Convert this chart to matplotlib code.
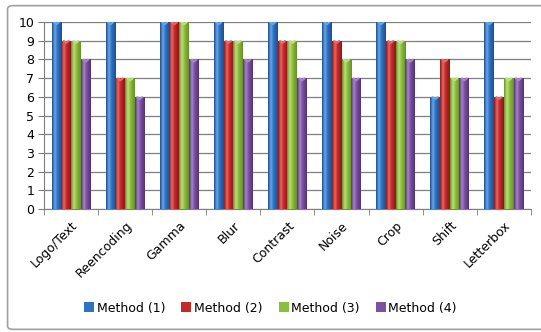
import numpy as np
import matplotlib.pyplot as plt
from matplotlib.colors import LinearSegmentedColormap
from matplotlib.patches import FancyBboxPatch

categories = ['Logo/Text', 'Reencoding', 'Gamma', 'Blur', 'Contrast',
              'Noise', 'Crop', 'Shift', 'Letterbox']
method_names = ['Method (1)', 'Method (2)', 'Method (3)', 'Method (4)']
method1 = [10, 10, 10, 10, 10, 10, 10, 6, 10]
method2 = [9, 7, 10, 9, 9, 9, 9, 8, 6]
method3 = [9, 7, 10, 9, 9, 8, 9, 7, 7]
method4 = [8, 6, 8, 8, 7, 7, 8, 7, 7]

# dark edge / base / highlight for the cylinder shading
shades = [
    ('#1c4f8f', '#2f72c4', '#6aa6e6'),
    ('#8c1618', '#c52a2b', '#e86a68'),
    ('#66902a', '#8dbd3d', '#bde07a'),
    ('#553277', '#7b51a2', '#a786c9'),
]

plt.rcParams['font.family'] = 'DejaVu Sans'
fig = plt.figure(figsize=(5.41, 3.32), dpi=100)

# outer chart frame
frame = FancyBboxPatch((0.014, 0.008), 1.02, 0.975, boxstyle='round,pad=0,rounding_size=0.01',
                       transform=fig.transFigure, fill=False, edgecolor='#a0a0a0', lw=1.2)
fig.patches.append(frame)

ax = fig.add_axes([0.0813, 0.370, 0.9, 0.564])

x = np.arange(len(categories))
width = 0.18
offsets = (np.arange(4) - 1.5) * width
series = [method1, method2, method3, method4]

grad = np.linspace(0, 1, 64)
grad_row = np.vstack([grad, grad])
handles = []
for k, vals in enumerate(series):
    dark, base, light = shades[k]
    cmap = LinearSegmentedColormap.from_list('cyl%d' % k,
                                             [(0, dark), (0.3, light), (0.55, base), (1, dark)])
    bars = ax.bar(x + offsets[k], vals, width, color=base, zorder=3, linewidth=0)
    for b in bars:
        x0, w, h = b.get_x(), b.get_width(), b.get_height()
        im = ax.imshow(grad_row, cmap=cmap, aspect='auto', extent=(x0, x0 + w, 0, h),
                       zorder=4, interpolation='bilinear')
        im.set_clip_path(b)
        # lighter cap at the top of each cylinder
        ax.plot([x0 + w * 0.25, x0 + w * 0.5, x0 + w * 0.75], [h - 0.02, h - 0.12, h - 0.02],
                color=light, lw=1.5, zorder=5, solid_capstyle='round')
    handles.append(bars)

ax.set_xlim(-0.5, len(categories) - 0.5)
ax.set_ylim(0, 10)
ax.set_yticks(range(11))
ax.yaxis.grid(True, color='#7f7f7f', lw=0.9, zorder=0)
ax.set_axisbelow(True)
ax.set_xticks(x)
ax.set_xticklabels(categories, rotation=45, ha='right', rotation_mode='anchor', fontsize=9)
ax.set_xticks(np.arange(len(categories) + 1) - 0.5, minor=True)
ax.tick_params(axis='x', which='major', length=0, pad=7)
ax.tick_params(axis='x', which='minor', length=4, color='#7f7f7f')
ax.tick_params(axis='y', length=4, color='#7f7f7f', labelsize=9, pad=3)
for s in ['top', 'right']:
    ax.spines[s].set_visible(False)
for s in ['left', 'bottom']:
    ax.spines[s].set_color('#7f7f7f')

fig.legend(handles, method_names, loc='center', bbox_to_anchor=(0.5, 0.072), ncol=4,
           frameon=False, fontsize=9, handlelength=0.8, handleheight=0.8,
           handletextpad=0.2, columnspacing=1.3)

fig.savefig('out.png', dpi=100)
